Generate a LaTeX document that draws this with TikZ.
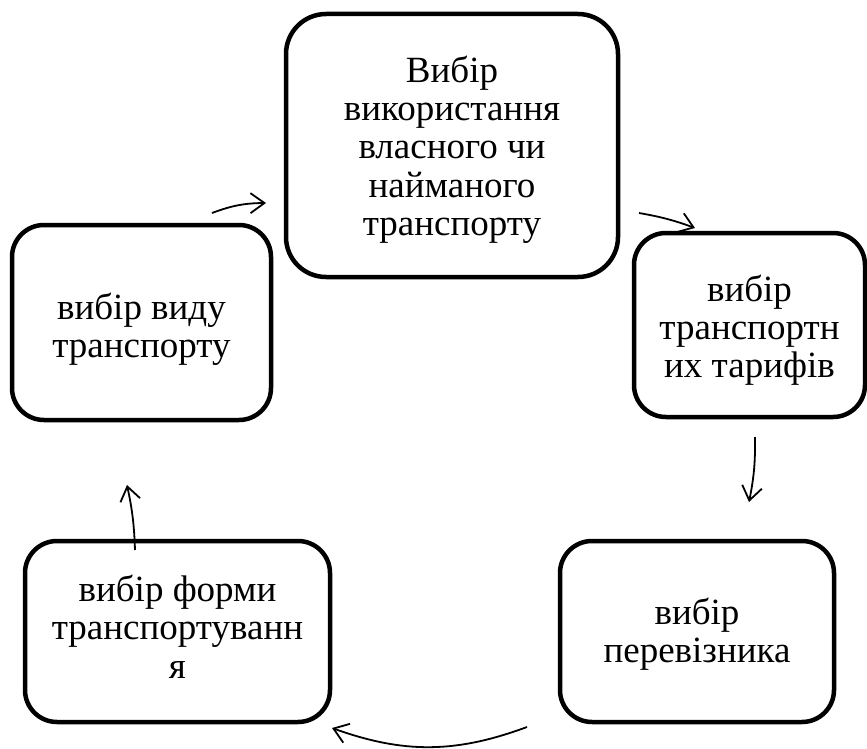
\documentclass[tikz,border=0pt]{standalone}
\usepackage{fontspec}
\setmainfont{Liberation Serif}
\usetikzlibrary{arrows.meta}
\begin{document}
\begin{tikzpicture}[x=1pt,y=-1pt,
  box/.style={draw, line width=4.5pt, rounded corners=32pt, inner sep=0pt},
  txt/.style={align=center, inner sep=0pt, font=\fontsize{37}{38.3}\selectfont},
  conn/.style={line width=1.8pt, -{Straight Barb[length=14pt,width=20pt,line width=1.8pt]}}]
\useasboundingbox (0,0) rectangle (867,749);
\node[box, minimum width=332pt, minimum height=263pt, rounded corners=40pt] (top) at (452,145.5) {};
\node[txt, yshift=-4pt] (topt) at (top.center) {Вибір\\використання\\власного чи\\найманого\\транспорту};
\node[box, minimum width=231pt, minimum height=184pt] (right) at (749.5,325) {};
\node[txt, yshift=-5pt] (rightt) at (right.center) {вибір\\транспортн\\их тарифів};
\node[box, minimum width=274pt, minimum height=181pt] (br) at (697,631.5) {};
\node[txt, yshift=-3pt] (brt) at (br.center) {вибір\\перевізника};
\node[box, minimum width=305pt, minimum height=181pt] (bl) at (177.5,631.5) {};
\node[txt, yshift=5pt] (blt) at (bl.center) {вибір форми\\транспортуванн\\я};
\node[box, minimum width=259pt, minimum height=195pt] (left) at (141.5,322.5) {};
\node[txt, yshift=-7pt] (leftt) at (left.center) {вибір виду\\транспорту};
\coordinate (a1s) at (212,213); \coordinate (a1e) at (266,203);
\coordinate (a2s) at (639,213); \coordinate (a2e) at (695,228);
\coordinate (a3s) at (755,437); \coordinate (a3e) at (749,502);
\coordinate (a4s) at (527,727); \coordinate (a4e) at (332,728);
\coordinate (a5s) at (135,550); \coordinate (a5e) at (127,485);
\draw[conn] (a1s) to[bend left=10] (a1e);
\draw[conn] (a2s) to[bend left=5] (a2e);
\draw[conn] (a3s) to[bend left=6] (a3e);
\draw[conn] (a4s) to[bend left=20] (a4e);
\draw[conn] (a5s) to[bend right=5] (a5e);
\end{tikzpicture}
\end{document}
